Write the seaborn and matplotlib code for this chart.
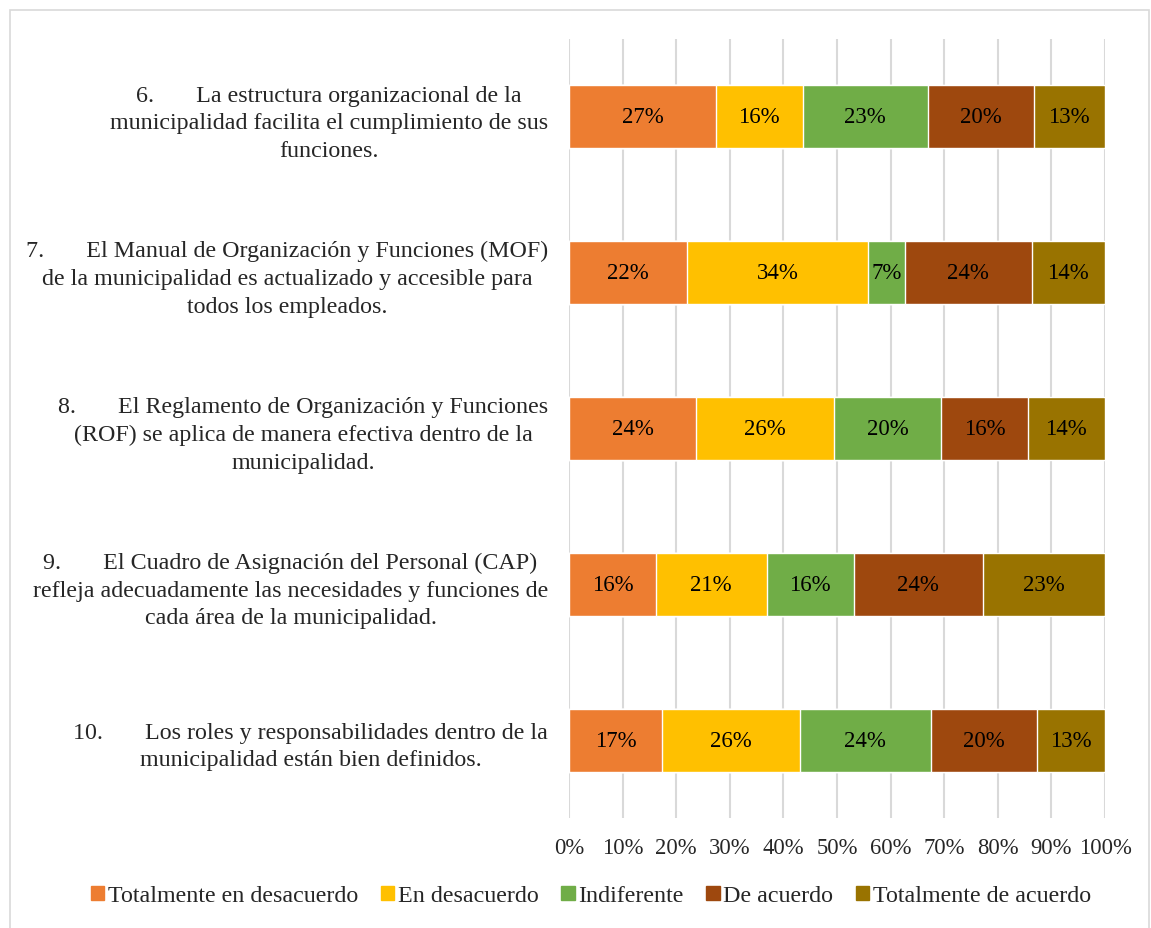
import matplotlib
matplotlib.use("Agg")
import matplotlib.pyplot as plt
import seaborn as sns
import numpy as np
import pandas as pd
from matplotlib.patches import Rectangle

questions = [
    "6.       La estructura organizacional de la\nmunicipalidad facilita el cumplimiento de sus\nfunciones.",
    "7.       El Manual de Organización y Funciones (MOF)\nde la municipalidad es actualizado y accesible para\ntodos los empleados.",
    "8.       El Reglamento de Organización y Funciones\n(ROF) se aplica de manera efectiva dentro de la\nmunicipalidad.",
    "9.       El Cuadro de Asignación del Personal (CAP)\nrefleja adecuadamente las necesidades y funciones de\ncada área de la municipalidad.",
    "10.       Los roles y responsabilidades dentro de la\nmunicipalidad están bien definidos.",
]
series_names = ["Totalmente en desacuerdo", "En desacuerdo", "Indiferente",
                "De acuerdo", "Totalmente de acuerdo"]
tot_desacuerdo = [27.4, 22.0, 23.7, 16.2, 17.4]
en_desacuerdo = [16.2, 33.8, 25.7, 20.7, 25.7]
indiferente = [23.3, 6.9, 20.0, 16.2, 24.4]
de_acuerdo = [19.8, 23.6, 16.2, 24.1, 19.8]
tot_acuerdo = [13.3, 13.7, 14.4, 22.8, 12.7]
colors = ["#ED7D31", "#FFC000", "#70AD47", "#9E480E", "#997300"]
xtick_labels = [f"{v}%" for v in range(0, 101, 10)]

series = [tot_desacuerdo, en_desacuerdo, indiferente, de_acuerdo, tot_acuerdo]

sns.set_theme(style="white")
plt.rcParams["font.family"] = ["Liberation Serif", "DejaVu Serif"]

fig = plt.figure(figsize=(11.51, 9.29), dpi=100)
ax = fig.add_axes([569/1151, 1-819/929, (1105-569)/1151, (819-40)/929])

vals = np.array(series, dtype=float)
cum = np.cumsum(vals, axis=0)
cum = cum / cum[-1] * 100.0

ax.set_axisbelow(True)
for i in range(len(series) - 1, -1, -1):
    df = pd.DataFrame({"q": questions, "v": cum[i]})
    sns.barplot(data=df, x="v", y="q", orient="h", color=colors[i],
                width=0.405, saturation=1, ax=ax, zorder=2)

starts = np.vstack([np.zeros(len(questions)), cum[:-1]])
for i in range(len(series)):
    for j in range(len(questions)):
        w = cum[i][j] - starts[i][j]
        ax.text(starts[i][j] + w / 2, j, f"{round(vals[i][j]):.0f}%",
                ha="center", va="center", fontsize=16.5, color="#000000", zorder=3)

ax.set_xlim(0, 100)
ax.set_ylim(4.5, -0.5)
ax.set_xticks(range(0, 101, 10))
ax.set_xticklabels(xtick_labels, fontsize=16.3)
ax.set_yticks(range(len(questions)))
ax.set_yticklabels(questions, fontsize=17.3, ha="right", multialignment="center",
                   linespacing=1.42)
ax.tick_params(axis="y", pad=15, length=0)
ax.tick_params(axis="x", pad=14, length=0)
ax.set_xlabel("")
ax.set_ylabel("")
ax.xaxis.grid(True, color="#D9D9D9", linewidth=1.5, zorder=0)
ax.yaxis.grid(False)
for s in ax.spines.values():
    s.set_visible(False)

handles = [Rectangle((0, 0), 1, 1, color=c) for c in colors]
fig.legend(handles, series_names, loc="center", bbox_to_anchor=(591/1151, 1-897/929),
           ncol=5, frameon=False, fontsize=17.3, handlelength=0.55, handleheight=0.55,
           handletextpad=0.15, columnspacing=0.95)

fig.patches.append(Rectangle((10/1151, -0.01), (1149-10)/1151, 1-11/929+0.01,
                             transform=fig.transFigure, fill=False,
                             edgecolor="#D9D9D9", linewidth=1.2))

fig.savefig("out.png", dpi=100)
